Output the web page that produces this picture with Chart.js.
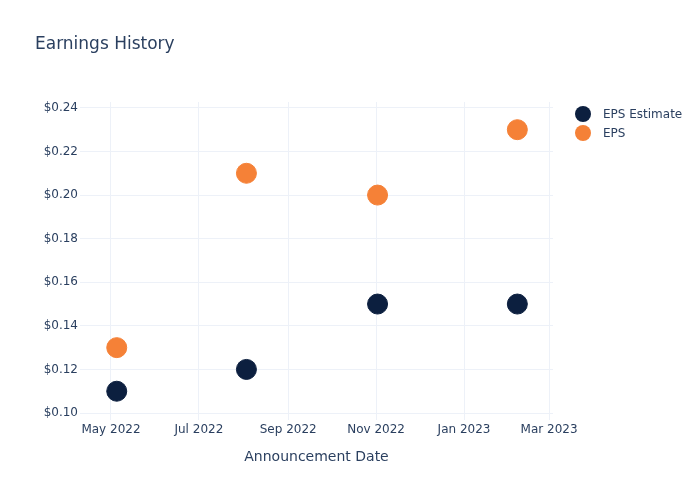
<!DOCTYPE html>
<html>
<head>
<meta charset="utf-8">
<script src="https://cdn.jsdelivr.net/npm/chart.js@4"></script>
<style>
  html, body { margin: 0; padding: 0; background: #fff; }
  #wrap { width: 700px; height: 500px; position: relative; }
</style>
</head>
<body>
<div id="wrap"><canvas id="myChart"></canvas></div>
<script>
// data
var dates = [Date.UTC(2022, 4, 5), Date.UTC(2022, 7, 3), Date.UTC(2022, 10, 2), Date.UTC(2023, 1, 7)];
var epsEstimate = [0.11, 0.12, 0.15, 0.15];
var eps = [0.13, 0.21, 0.20, 0.23];
var xTicks = [Date.UTC(2022, 4, 1), Date.UTC(2022, 6, 1), Date.UTC(2022, 8, 1), Date.UTC(2022, 10, 1), Date.UTC(2023, 0, 1), Date.UTC(2023, 2, 1)];
var yTicks = [0.10, 0.12, 0.14, 0.16, 0.18, 0.20, 0.22, 0.24];
var monthNames = ['Jan', 'Feb', 'Mar', 'Apr', 'May', 'Jun', 'Jul', 'Aug', 'Sep', 'Oct', 'Nov', 'Dec'];

const TXT = '#2a3f5f';
const GRID = '#edf1f8';
const FONT = '"DejaVu Sans", sans-serif';

function pts(ys) {
  var out = [];
  for (var i = 0; i < dates.length; i++) out.push({x: dates[i], y: ys[i]});
  return out;
}

// title + legend drawn by hand to sit where plotly puts them
var extras = {
  id: 'extras',
  afterDraw: function(chart) {
    var ctx = chart.ctx;
    ctx.save();
    ctx.fillStyle = TXT;
    ctx.font = '17px ' + FONT;
    ctx.textBaseline = 'middle';
    ctx.textAlign = 'left';
    ctx.fillText('Earnings History', 35, 45);
    ctx.font = '12px ' + FONT;
    chart.data.datasets.forEach(function(ds, i) {
      var y = 114 + i * 19;
      ctx.beginPath();
      ctx.arc(583, y, 8, 0, Math.PI * 2);
      ctx.fillStyle = ds.backgroundColor;
      ctx.fill();
      ctx.fillStyle = TXT;
      ctx.fillText(ds.label, 603, y + 1);
    });
    ctx.restore();
  }
};

var data = {
  datasets: [
    {
      label: 'EPS Estimate',
      data: pts(epsEstimate),
      backgroundColor: '#0c1f3f',
      borderColor: '#0c1f3f',
      pointRadius: 10,
      pointHoverRadius: 10,
      showLine: false
    },
    {
      label: 'EPS',
      data: pts(eps),
      backgroundColor: '#f58137',
      borderColor: '#f58137',
      pointRadius: 10,
      pointHoverRadius: 10,
      showLine: false
    }
  ]
};

var config = {
  type: 'scatter',
  data: data,
  plugins: [extras],
  options: {
    responsive: false,
    animation: false,
    layout: { padding: { top: 102, right: 147, bottom: 30, left: 0 } },
    plugins: {
      legend: { display: false },
      title: { display: false },
      tooltip: { enabled: false }
    },
    scales: {
      x: {
        type: 'linear',
        min: Date.UTC(2022, 3, 9, 12),
        max: Date.UTC(2023, 2, 3, 18),
        afterBuildTicks: function(scale) {
          scale.ticks = xTicks.map(function(v) { return {value: v}; });
        },
        afterFit: function(scale) { scale.height = 50; },
        grid: { color: GRID, drawTicks: false },
        border: { display: false },
        ticks: {
          color: TXT,
          font: { family: FONT, size: 12 },
          padding: 3,
          maxRotation: 0,
          autoSkip: false,
          callback: function(v) {
            var d = new Date(v);
            return monthNames[d.getUTCMonth()] + ' ' + d.getUTCFullYear();
          }
        },
        title: {
          display: true,
          text: 'Announcement Date',
          color: TXT,
          font: { family: FONT, size: 14 },
          padding: { top: 4, bottom: 4 }
        }
      },
      y: {
        min: 0.0968,
        max: 0.2427,
        afterBuildTicks: function(scale) {
          scale.ticks = yTicks.map(function(v) { return {value: v}; });
        },
        afterFit: function(scale) { scale.width = 80; },
        grid: { color: GRID, drawTicks: false },
        border: { display: false },
        ticks: {
          color: TXT,
          font: { family: FONT, size: 12 },
          padding: 2,
          callback: function(v) { return '$' + v.toFixed(2); }
        }
      }
    }
  }
};

var canvas = document.getElementById('myChart');
canvas.width = 700;
canvas.height = 500;
var myChart = new Chart(canvas, config);
</script>
</body>
</html>
